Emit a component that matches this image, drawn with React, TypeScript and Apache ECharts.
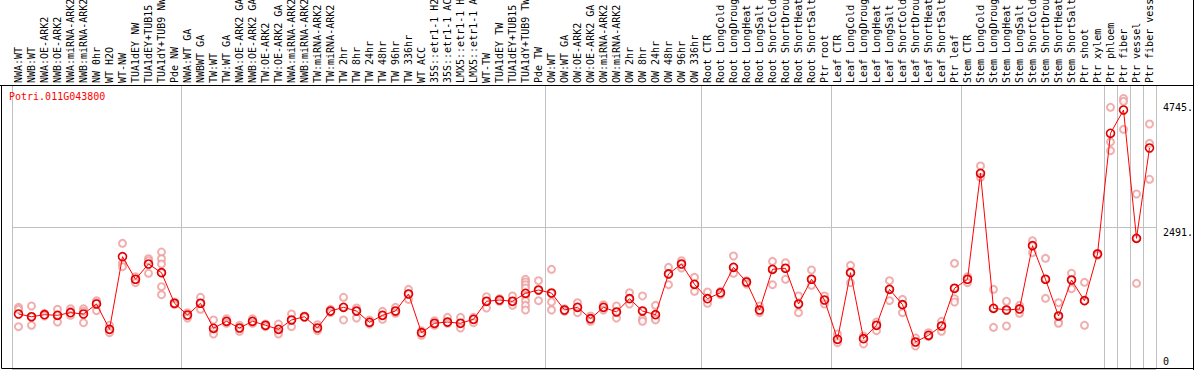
import React, { useEffect, useRef } from "react";
import * as echarts from "echarts";

const geneName = "Potri.011G043800";

const categories = [
  "NWA:WT", "NWB:WT", "NWA:OE-ARK2", "NWB:OE-ARK2", "NWA:miRNA-ARK2", "NWB:miRNA-ARK2", "NW 0hr", "WT H2O", "WT-NW", "TUA1dEY NW", "TUA1dEY+TUB15", "TUA1dY+TUB9 NW", "Pde NW",
  "NWA:WT GA", "NWBWT GA", "TW:WT", "TW:WT GA", "NWA:OE-ARK2 GA", "NWB:OE-ARK2 GA", "TW:OE-ARK2", "TW:OE-ARK2 GA", "NWA:miRNA-ARK2", "NWB:miRNA-ARK2", "TW:miRNA-ARK2", "TW:miRNA-ARK2", "TW 2hr", "TW 8hr", "TW 24hr", "TW 48hr", "TW 96hr", "TW 336hr", "WT ACC", "35S::etr1-1 H2O", "35S::etr1-1 ACC", "LMX5::etr1-1 H2O", "LMX5::etr1-1 ACC", "WT-TW", "TUA1dEY TW", "TUA1dEY+TUB15", "TUA1dY+TUB9 TW", "Pde TW",
  "OW:WT", "OW:WT GA", "OW:OE-ARK2", "OW:OE-ARK2 GA", "OW:miRNA-ARK2", "OW:miRNA-ARK2", "OW 2hr", "OW 8hr", "OW 24hr", "OW 48hr", "OW 96hr", "OW 336hr",
  "Root CTR", "Root LongCold", "Root LongDrought", "Root LongHeat", "Root LongSalt", "Root ShortCold", "Root ShortDrought", "Root ShortHeat", "Root ShortSalt", "Ptr root",
  "Leaf CTR", "Leaf LongCold", "Leaf LongDrought", "Leaf LongHeat", "Leaf LongSalt", "Leaf ShortCold", "Leaf ShortDrought", "Leaf ShortHeat", "Leaf ShortSalt", "Ptr leaf",
  "Stem CTR", "Stem LongCold", "Stem LongDrought", "Stem LongHeat", "Stem LongSalt", "Stem ShortCold", "Stem ShortDrought", "Stem ShortHeat", "Stem ShortSalt", "Ptr shoot", "Ptr xylem",
  "Ptr phloem", "Ptr fiber", "Ptr vessel", "Ptr fiber vessel",
];

// index of the first category of each experiment group
const groupStarts = [0, 13, 41, 53, 63, 73, 84, 85, 86, 87];

const meanValues = [
  965, 917, 953, 942, 988, 965, 1140, 696, 1970, 1574, 1842, 1689, 1153,
  947, 1153, 714, 837, 719, 837, 767, 696, 860, 917, 719, 1017, 1082, 1017, 819, 942, 1017, 1316, 637, 802, 824, 802, 872, 1188, 1210, 1188, 1328, 1386,
  1333, 1035, 1082, 882, 1082, 1000, 1233, 1017, 953, 1667, 1842, 1486,
  1233, 1338, 1784, 1526, 1035, 1749, 1767, 1140, 1574, 1210,
  521, 1689, 532, 767, 1398, 1128, 474, 591, 754, 1416,
  1574, 3433, 1065, 1035, 1053, 2163, 1574, 930, 1561, 1198, 2017,
  4135, 4543, 2293, 3877,
];

const replicateValues = [
  [1082, 1047, 742], [1105, 917, 767], [977, 953, 930], [1047, 942, 824], [1058, 1012, 942], [1058, 1012, 812], [1198, 1163, 1023], [767, 696, 637], [2205, 1854, 1795], [1619, 1574, 1514], [1935, 1900, 1679], [2052, 1935, 1842, 1689, 1444, 1303], [1175, 1153, 1128],
  [988, 942, 895], [1258, 1153, 1047], [860, 672, 614], [882, 837, 802], [767, 719, 661], [882, 837, 802], [789, 767, 742], [789, 649, 614], [965, 860, 742], [930, 917, 906], [777, 719, 672], [1047, 1017, 988], [1258, 1082, 860], [1070, 1017, 895], [860, 819, 789], [1012, 942, 872], [1082, 1017, 977], [1398, 1316, 1222], [672, 637, 591], [847, 802, 767], [906, 824, 802], [906, 802, 719], [906, 872, 812], [1268, 1188, 1070], [1233, 1210, 1188], [1281, 1188, 1117], [1574, 1526, 1479, 1421, 1281, 1198, 1117, 1035], [1549, 1386, 1198],
  [1749, 1328, 1175, 1035], [1058, 1035, 1012], [1163, 1082, 988], [930, 882, 837], [1128, 1082, 1035], [1105, 1000, 895], [1338, 1233, 1140], [1281, 1017, 882, 837], [1117, 953, 882, 860], [1784, 1667, 1479], [1900, 1842, 1772], [1608, 1486, 1363],
  [1351, 1233, 1153], [1363, 1338, 1303], [1982, 1784, 1679], [1549, 1526, 1491], [1105, 1035, 988], [1889, 1749, 1479], [1865, 1767, 1574], [1281, 1140, 988], [1737, 1574, 1468], [1281, 1210, 1140],
  [614, 521, 461], [1819, 1689, 1514], [579, 532, 439], [824, 767, 672], [1549, 1398, 1198], [1222, 1128, 988], [544, 474, 403], [637, 591, 567], [837, 754, 661], [1854, 1416, 1233, 1175],
  [1619, 1574, 1514], [3561, 3433, 3363], [1398, 1065, 731], [1188, 1035, 754], [1117, 1053, 977], [2251, 2163, 2040], [1942, 1574, 1240], [1163, 930, 824, 802], [1679, 1561, 1409], [1521, 1198, 767], [2030, 2017, 1995],
  [4591, 3982, 3830], [4745, 4696, 4205], [3070, 2293, 1503], [4298, 3959, 3328],
];

const yTickStep = 2491;
const yLabelValues = [0, 2491, 4745];

const MONO = "'DejaVu Sans Mono', 'Liberation Mono', monospace";

export default function App() {
  const ref = useRef<HTMLDivElement>(null);

  useEffect(() => {
    if (!ref.current) return;
    const chart = echarts.init(ref.current, undefined, { renderer: "svg" });

    const scatterData: number[][] = [];
    replicateValues.forEach((reps, i) => reps.forEach((v) => scatterData.push([i, v])));

    const isGroupStart = (idx: number) => groupStarts.indexOf(idx) >= 0;

    chart.setOption({
      animation: false,
      backgroundColor: "#ffffff",
      title: {
        text: geneName,
        left: 9,
        top: 91,
        padding: 0,
        textStyle: { color: "#ff0000", fontSize: 10, fontWeight: "normal", fontFamily: MONO },
      },
      grid: { left: 12, right: 38, top: 85, bottom: 1, containLabel: false, outerBoundsMode: "none" },
      xAxis: {
        type: "category",
        position: "top",
        data: categories,
        boundaryGap: true,
        axisLine: { show: false },
        axisTick: {
          show: true,
          interval: isGroupStart,
          length: 85,
          inside: false,
          lineStyle: { color: "#c0c0c0", width: 1 },
        },
        splitLine: {
          show: true,
          interval: isGroupStart,
          lineStyle: { color: "#c0c0c0", width: 1 },
        },
        axisLabel: {
          interval: 0,
          rotate: 90,
          margin: 2,
          hideOverlap: false,
          color: "#000000",
          fontSize: 10,
          fontFamily: MONO,
        },
      },
      yAxis: {
        type: "value",
        position: "right",
        min: 0,
        max: yTickStep * 2,
        interval: yTickStep,
        axisLine: { show: false },
        axisTick: { show: false },
        splitLine: { show: true, lineStyle: { color: "#c0c0c0", width: 1 } },
        axisLabel: {
          show: true,
          customValues: yLabelValues,
          margin: 7,
          align: "left",
          color: "#000000",
          fontSize: 10,
          fontFamily: MONO,
          formatter: (v: number) => {
            if (v === 0) return "{z|0}";
            if (v === yLabelValues[1]) return "{m|" + v + ".}";
            return "{t|" + v + ".}";
          },
          rich: {
            z: { fontSize: 10, fontFamily: MONO, color: "#000", padding: [0, 0, 15, 0] },
            m: { fontSize: 10, fontFamily: MONO, color: "#000", padding: [11, 0, 0, 0] },
            t: { fontSize: 10, fontFamily: MONO, color: "#000", padding: [18, 0, 0, 0] },
          },
        },
      },
      graphic: [
        {
          type: "rect",
          silent: true,
          z: 100,
          shape: { x: 1.5, y: 85.5, width: 1192, height: 283 },
          style: { fill: "none", stroke: "#000000", lineWidth: 1 },
        },
        {
          type: "line",
          silent: true,
          z: 100,
          shape: { x1: 0, y1: 85.5, x2: 1194, y2: 85.5 },
          style: { stroke: "#000000", lineWidth: 1 },
        },
        {
          type: "line",
          silent: true,
          z: 100,
          shape: { x1: 1193.5, y1: 0, x2: 1193.5, y2: 370 },
          style: { stroke: "#000000", lineWidth: 1 },
        },
      ],
      series: [
        {
          type: "scatter",
          name: "replicates",
          data: scatterData,
          symbol: "emptyCircle",
          symbolSize: 7,
          z: 2,
          itemStyle: { color: "#ee9a9a", borderColor: "#ee9a9a", borderWidth: 1 },
        },
        {
          type: "line",
          name: "mean",
          data: meanValues,
          symbol: "circle",
          symbolSize: 8,
          showSymbol: true,
          z: 3,
          lineStyle: { color: "#ff0000", width: 1 },
          itemStyle: { color: "rgba(0,0,0,0)", borderColor: "#e00000", borderWidth: 1.6 },
        },
      ],
    });

    return () => chart.dispose();
  }, []);

  return (
    <div
      ref={ref}
      style={{ position: "absolute", left: 0, top: 0, width: 1194, height: 370, background: "#fff" }}
    />
  );
}
